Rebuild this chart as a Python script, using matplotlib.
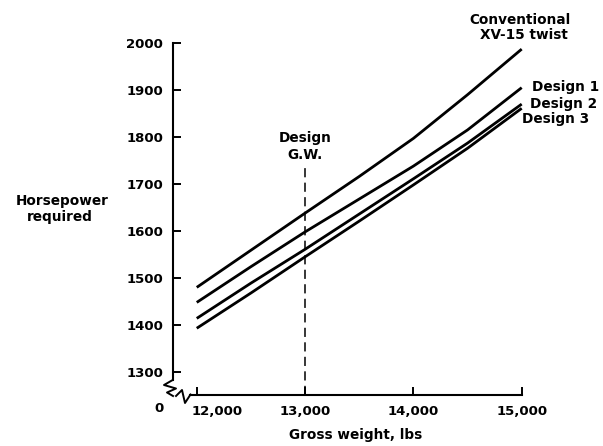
import matplotlib
matplotlib.use("Agg")
import matplotlib.pyplot as plt
import matplotlib.transforms as mtransforms
from matplotlib.lines import Line2D

plt.rcParams["font.family"] = ["DejaVu Sans"]
plt.rcParams["font.weight"] = "bold"

# gross weight (lbs) and horsepower required
weights = [12000, 12500, 13000, 13500, 14000, 14500, 15000]
conventional = [1480, 1559, 1638, 1716, 1797, 1890, 1987]
design1 = [1448, 1524, 1598, 1668, 1738, 1815, 1905]
design2 = [1414, 1489, 1561, 1636, 1711, 1787, 1870]
design3 = [1393, 1468, 1545, 1621, 1698, 1776, 1861]

x_ticks = [12000, 13000, 14000, 15000]
x_tick_labels = ["12,000", "13,000", "14,000", "15,000"]
y_ticks = [1300, 1400, 1500, 1600, 1700, 1800, 1900, 2000]
design_gw = 13000

W, H = 603, 446
FS = 9.8


def fx(px):
    return px / W


def fy(py):
    return 1 - py / H


fig = plt.figure(figsize=(W / 100, H / 100), dpi=100)
ax = fig.add_axes([fx(172.7), fy(395), (521.7 - 172.7) / W, (395 - 43) / H])
ax.set_xlim(11778, 15000)
ax.set_ylim(1251, 2000)

for ys in (conventional, design1, design2, design3):
    ax.plot(weights, ys, color="black", lw=2.0, solid_capstyle="butt", clip_on=False)

ax.plot([design_gw, design_gw], [1251, 1740], color="black", lw=1.1,
        linestyle=(0, (6, 3.5)))

for side in ("top", "right"):
    ax.spines[side].set_visible(False)
ax.spines["left"].set_bounds(1283, 2000)
ax.spines["bottom"].set_bounds(11938, 15000)
for side in ("left", "bottom"):
    ax.spines[side].set_linewidth(1.5)

ax.set_xticks(x_ticks)
ax.set_xticklabels(x_tick_labels)
ax.set_yticks(y_ticks)
ax.tick_params(direction="in", length=6, width=1.4, labelsize=9.5, pad=7)

# 12,000 label sits right of its tick in the original
lbl = ax.get_xticklabels()[0]
lbl.set_transform(lbl.get_transform() + mtransforms.ScaledTranslation(0.2, 0, fig.dpi_scale_trans))

# axis break marks
brk1 = [(172.7, 380), (164, 385), (176, 388.5), (167, 392.5), (173, 396)]
brk2 = [(176, 396), (182, 390), (185, 403), (190.5, 394.5)]
for pts in (brk1, brk2):
    fig.add_artist(Line2D([fx(p[0]) for p in pts], [fy(p[1]) for p in pts],
                          color="black", lw=1.4, transform=fig.transFigure))

fig.text(fx(159), fy(408), "0", ha="center", va="center", fontsize=9.5, fontweight="bold")

fig.text(fx(520), fy(20), "Conventional", ha="center", va="center", fontsize=FS, fontweight="bold")
fig.text(fx(524), fy(35), "XV-15 twist", ha="center", va="center", fontsize=FS, fontweight="bold")
fig.text(fx(532), fy(87), "Design 1", ha="left", va="center", fontsize=FS, fontweight="bold")
fig.text(fx(530), fy(104), "Design 2", ha="left", va="center", fontsize=FS, fontweight="bold")
fig.text(fx(522), fy(119), "Design 3", ha="left", va="center", fontsize=FS, fontweight="bold")
fig.text(fx(305), fy(138), "Design", ha="center", va="center", fontsize=FS, fontweight="bold")
fig.text(fx(305), fy(155), "G.W.", ha="center", va="center", fontsize=FS, fontweight="bold")

fig.text(fx(62), fy(201), "Horsepower", ha="center", va="center", fontsize=FS, fontweight="bold")
fig.text(fx(60), fy(217), "required", ha="center", va="center", fontsize=FS, fontweight="bold")
fig.text(fx(356), fy(435), "Gross weight, lbs", ha="center", va="center", fontsize=FS, fontweight="bold")

fig.savefig("out.png", dpi=100)
